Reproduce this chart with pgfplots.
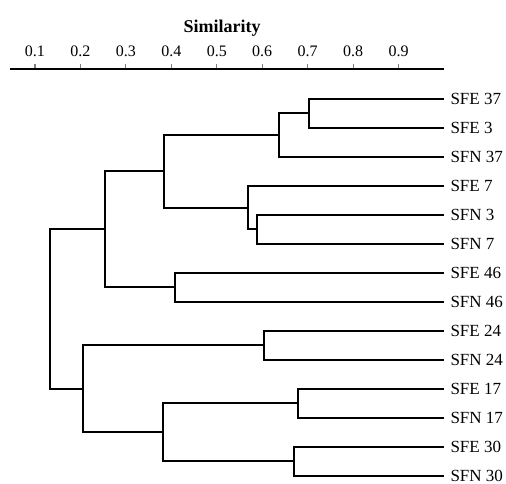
\documentclass[border=0pt]{standalone}
\usepackage{fontspec}
\setmainfont{Liberation Serif}
\usepackage{pgfplots}
\pgfplotsset{compat=1.18}

\begin{document}
\begin{tikzpicture}
\useasboundingbox (0,0) rectangle (506bp,484bp);
\begin{axis}[
    at={(10bp,0bp)}, anchor=south west,
    scale only axis, width=434bp, height=415bp,
    xmin=0.045, xmax=1.0, ymin=-0.276, ymax=14.034,
    axis x line=top, axis y line=right,
    y axis line style={draw=none},
    x axis line style={-, line width=1.2bp},
    xtick={0.1,0.2,...,0.9},
    xticklabel style={font=\fontsize{16bp}{18bp}\selectfont, yshift=4bp},
    /pgf/number format/assume math mode=true,
    /pgf/number format/fixed,
    tick align=outside, major tick length=5bp,
    xtick style={line width=1.2bp},
    ytick={0,...,13},
    yticklabels={SFN 30,SFE 30,SFN 17,SFE 17,SFN 24,SFE 24,SFN 46,SFE 46,SFN 7,SFN 3,SFE 7,SFN 37,SFE 3,SFE 37},
    ytick style={draw=none},
    yticklabel style={font=\fontsize{17bp}{19bp}\selectfont, anchor=west, xshift=-2bp},
    xlabel={\textbf{Similarity}},
    xlabel style={font=\fontsize{18bp}{20bp}\selectfont, xshift=-5bp, yshift=2bp},
    br/.style={black, solid, line width=2bp, mark=none, line join=miter},
    clip=false,
]
% merges: (child x, child y) (merge x, child y) (merge x, other y) (other x, other y)
\addplot[br] coordinates {(1,13) (0.702,13) (0.702,12) (1,12)};           % A
\addplot[br] coordinates {(0.702,12.5) (0.637,12.5) (0.637,11) (1,11)};   % B
\addplot[br] coordinates {(1,9) (0.589,9) (0.589,8) (1,8)};               % C
\addplot[br] coordinates {(1,10) (0.568,10) (0.568,8.5) (0.589,8.5)};     % D
\addplot[br] coordinates {(0.637,11.75) (0.383,11.75) (0.383,9.25) (0.568,9.25)}; % E
\addplot[br] coordinates {(1,7) (0.407,7) (0.407,6) (1,6)};               % F
\addplot[br] coordinates {(0.383,10.5) (0.253,10.5) (0.253,6.5) (0.407,6.5)}; % G
\addplot[br] coordinates {(1,5) (0.604,5) (0.604,4) (1,4)};               % H
\addplot[br] coordinates {(1,3) (0.678,3) (0.678,2) (1,2)};               % I
\addplot[br] coordinates {(1,1) (0.670,1) (0.670,0) (1,0)};               % J
\addplot[br] coordinates {(0.678,2.5) (0.381,2.5) (0.381,0.5) (0.670,0.5)}; % K
\addplot[br] coordinates {(0.604,4.5) (0.206,4.5) (0.206,1.5) (0.381,1.5)}; % L
\addplot[br] coordinates {(0.253,8.5) (0.132,8.5) (0.132,3) (0.206,3)};   % M
\end{axis}
\end{tikzpicture}
\end{document}
